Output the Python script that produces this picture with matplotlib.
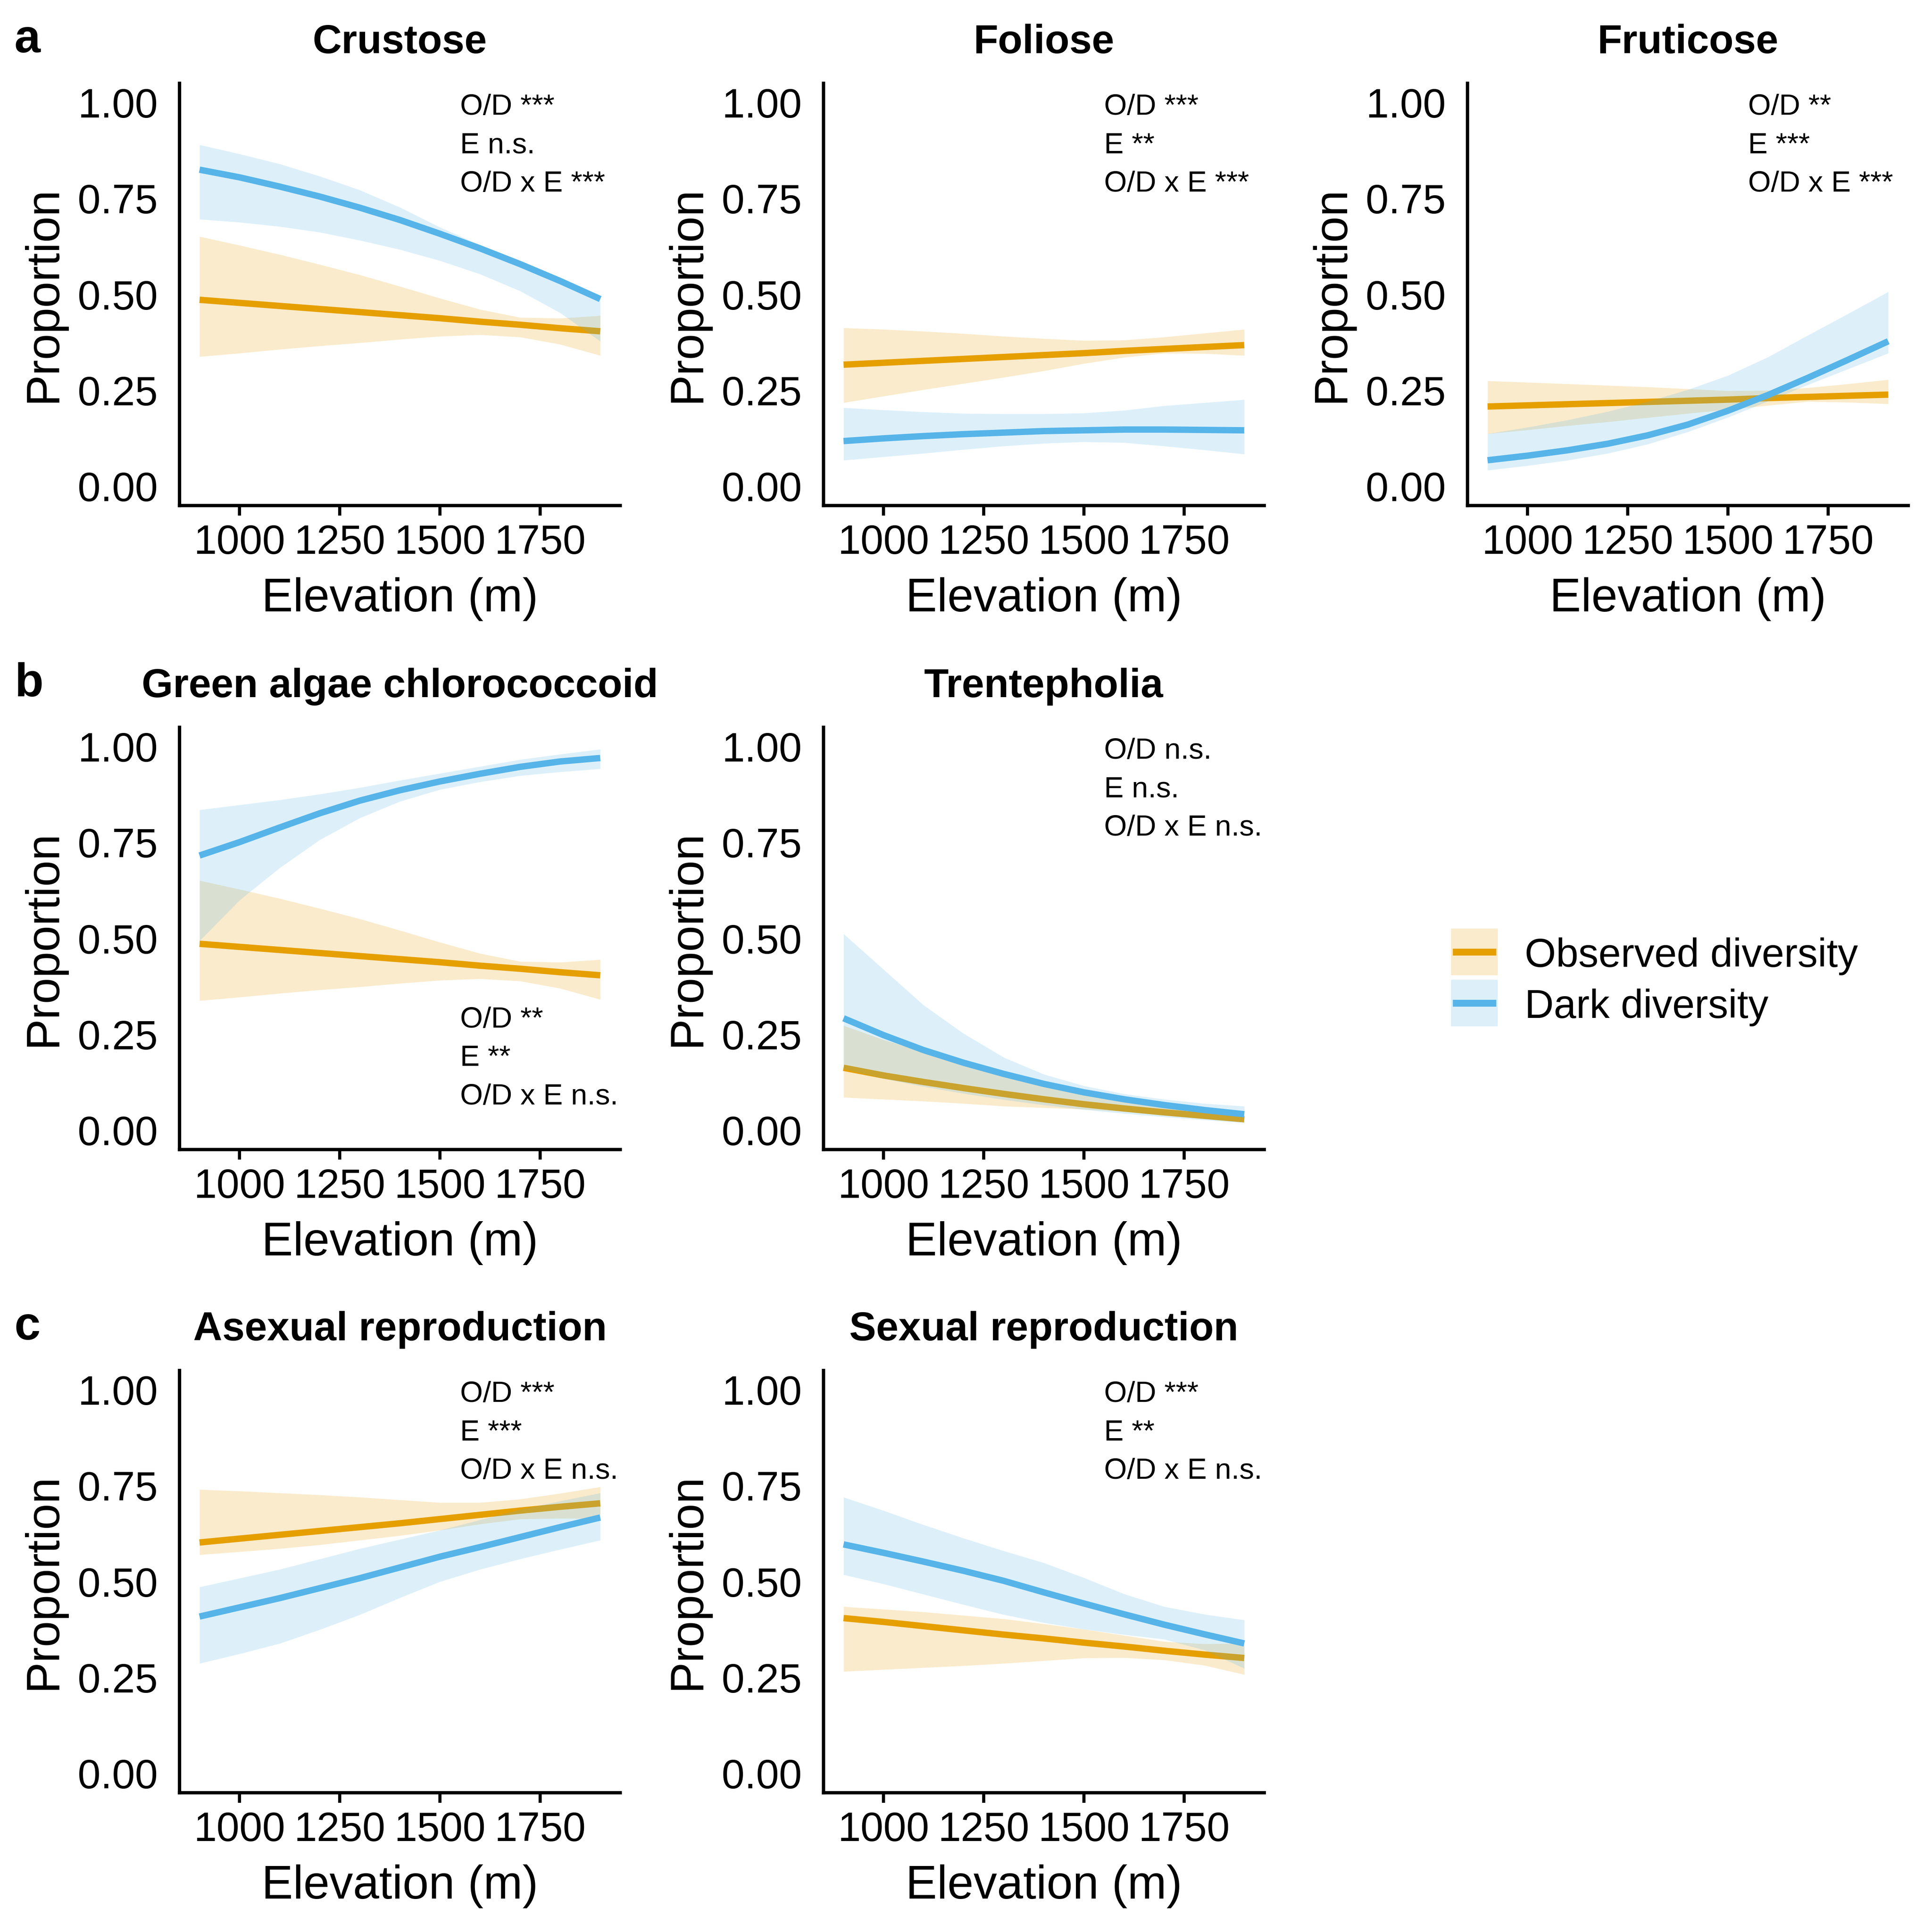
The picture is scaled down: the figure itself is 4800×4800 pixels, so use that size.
import matplotlib
matplotlib.use("Agg")
import matplotlib.pyplot as plt
from matplotlib.patches import Rectangle
from matplotlib.lines import Line2D

plt.rcParams['font.family'] = ['Liberation Sans', 'DejaVu Sans']

# ---------------- data ----------------
elevation = [900, 1000, 1100, 1200, 1300, 1400, 1500, 1600, 1700, 1800, 1900]

# Crustose
crus_obs     = [.486, .478, .470, .462, .454, .446, .438, .429, .421, .412, .404]
crus_obs_hi  = [.651, .628, .604, .578, .551, .521, .490, .461, .440, .438, .445]
crus_obs_lo  = [.338, .347, .357, .366, .374, .383, .391, .395, .389, .370, .341]
crus_dark    = [.825, .805, .781, .755, .726, .694, .658, .620, .579, .535, .488]
crus_dark_hi = [.890, .866, .840, .808, .772, .727, .675, .629, .585, .541, .495]
crus_dark_lo = [.696, .688, .677, .662, .641, .617, .588, .553, .509, .452, .378]

# Foliose
foli_obs     = [.317, .322, .327, .332, .337, .342, .347, .353, .358, .363, .368]
foli_obs_hi  = [.413, .409, .404, .398, .391, .385, .380, .381, .389, .399, .409]
foli_obs_lo  = [.218, .235, .252, .268, .284, .301, .320, .336, .347, .346, .341]
foli_dark    = [.118, .125, .131, .136, .140, .144, .146, .148, .148, .147, .146]
foli_dark_hi = [.205, .199, .194, .190, .189, .189, .191, .198, .210, .218, .226]
foli_dark_lo = [.068, .077, .086, .096, .105, .112, .116, .114, .105, .095, .084]

# Fruticose
frut_obs     = [.208, .211, .214, .217, .220, .223, .226, .230, .233, .236, .239]
frut_obs_hi  = [.275, .271, .267, .263, .259, .254, .249, .250, .257, .267, .278]
frut_obs_lo  = [.137, .147, .158, .168, .179, .190, .200, .211, .221, .219, .215]
frut_dark    = [.068, .080, .094, .111, .133, .161, .197, .238, .283, .330, .378]
frut_dark_hi = [.137, .154, .173, .195, .221, .252, .289, .337, .394, .450, .507]
frut_dark_lo = [.042, .054, .068, .086, .110, .142, .180, .222, .265, .306, .347]

# Green algae chlorococcoid
gree_obs     = [.486, .478, .470, .462, .454, .446, .438, .429, .421, .412, .404]
gree_obs_hi  = [.651, .628, .604, .578, .551, .521, .490, .461, .440, .438, .445]
gree_obs_lo  = [.338, .347, .357, .366, .374, .383, .391, .395, .389, .370, .341]
gree_dark    = [.716, .751, .789, .826, .859, .886, .909, .929, .947, .961, .970]
gree_dark_hi = [.835, .848, .861, .876, .893, .912, .930, .948, .966, .980, .993]
gree_dark_lo = [.494, .600, .684, .757, .814, .857, .888, .908, .924, .934, .942]

# Trentepholia
tren_obs     = [.163, .143, .126, .110, .095, .081, .068, .057, .047, .038, .029]
tren_obs_hi  = [.273, .236, .205, .175, .147, .122, .100, .082, .066, .052, .040]
tren_obs_lo  = [.086, .081, .076, .070, .063, .059, .055, .049, .039, .030, .021]
tren_dark    = [.292, .248, .209, .176, .147, .121, .099, .081, .066, .053, .042]
tren_dark_hi = [.512, .419, .326, .252, .190, .146, .116, .095, .081, .070, .063]
tren_dark_lo = [.160, .135, .114, .096, .080, .066, .054, .044, .035, .027, .020]

# Asexual reproduction
asex_obs     = [.602, .612, .622, .632, .642, .652, .663, .674, .685, .695, .704]
asex_obs_hi  = [.740, .736, .731, .726, .720, .713, .706, .706, .715, .730, .747]
asex_obs_lo  = [.570, .578, .586, .596, .608, .620, .634, .650, .663, .665, .664]
asex_dark    = [.409, .433, .457, .483, .509, .537, .565, .590, .616, .642, .667]
asex_dark_hi = [.486, .509, .532, .559, .586, .610, .634, .661, .688, .710, .731]
asex_dark_lo = [.287, .312, .339, .375, .414, .458, .500, .532, .559, .584, .608]

# Sexual reproduction
sexu_obs     = [.405, .395, .384, .373, .362, .352, .341, .331, .320, .310, .301]
sexu_obs_hi  = [.435, .428, .421, .412, .403, .390, .376, .360, .344, .338, .339]
sexu_obs_lo  = [.266, .271, .276, .281, .287, .294, .301, .302, .296, .282, .258]
sexu_dark    = [.597, .575, .552, .528, .502, .472, .443, .415, .388, .363, .339]
sexu_dark_hi = [.720, .685, .648, .613, .580, .549, .510, .468, .435, .415, .400]
sexu_dark_lo = [.518, .494, .467, .440, .414, .393, .376, .362, .350, .322, .274]

titles = ["Crustose", "Foliose", "Fruticose", "Green algae chlorococcoid",
          "Trentepholia", "Asexual reproduction", "Sexual reproduction"]
stats = [["O/D ***", "E n.s.", "O/D x E ***"],
         ["O/D ***", "E **", "O/D x E ***"],
         ["O/D **", "E ***", "O/D x E ***"],
         ["O/D **", "E **", "O/D x E n.s."],
         ["O/D n.s.", "E n.s.", "O/D x E n.s."],
         ["O/D ***", "E ***", "O/D x E n.s."],
         ["O/D ***", "E **", "O/D x E n.s."]]
stat_y = [[1.0, 0.9, 0.8], [1.0, 0.9, 0.8], [1.0, 0.9, 0.8], [0.3, 0.2, 0.1],
          [1.0, 0.9, 0.8], [1.0, 0.9, 0.8], [1.0, 0.9, 0.8]]
x_ticks = [1000, 1250, 1500, 1750]
y_ticks = [0.00, 0.25, 0.50, 0.75, 1.00]
series_labels = ["Observed diversity", "Dark diversity"]
panel_letters = ["a", "b", "c"]

series = [
    (crus_obs, crus_obs_lo, crus_obs_hi, crus_dark, crus_dark_lo, crus_dark_hi),
    (foli_obs, foli_obs_lo, foli_obs_hi, foli_dark, foli_dark_lo, foli_dark_hi),
    (frut_obs, frut_obs_lo, frut_obs_hi, frut_dark, frut_dark_lo, frut_dark_hi),
    (gree_obs, gree_obs_lo, gree_obs_hi, gree_dark, gree_dark_lo, gree_dark_hi),
    (tren_obs, tren_obs_lo, tren_obs_hi, tren_dark, tren_dark_lo, tren_dark_hi),
    (asex_obs, asex_obs_lo, asex_obs_hi, asex_dark, asex_dark_lo, asex_dark_hi),
    (sexu_obs, sexu_obs_lo, sexu_obs_hi, sexu_dark, sexu_dark_lo, sexu_dark_hi),
]

# ---------------- style / layout ----------------
ORANGE = "#E69F00"
BLUE = "#56B4E9"
W = H = 4800.0
col_left = [446, 2046, 3646]
ax_w = 1095
ax_h = 1049
row_top = [207, 1807, 3405]
positions = [(0, 0), (0, 1), (0, 2), (1, 0), (1, 1), (2, 0), (2, 1)]
LW = 3.8

fig = plt.figure(figsize=(16, 16), dpi=300)


def fx(px):
    return px / W


def fy(py):
    return 1 - py / H


for i, (r, c) in enumerate(positions):
    top = row_top[r]
    bot = top + ax_h
    left = col_left[c]
    ax = fig.add_axes([fx(left), fy(bot), ax_w / W, ax_h / H])
    o, olo, ohi, d, dlo, dhi = series[i]
    ax.fill_between(elevation, olo, ohi, color=ORANGE, alpha=0.2, lw=0, zorder=1)
    ax.plot(elevation, o, color=ORANGE, lw=LW, solid_capstyle="butt", zorder=2)
    ax.fill_between(elevation, dlo, dhi, color=BLUE, alpha=0.2, lw=0, zorder=3)
    ax.plot(elevation, d, color=BLUE, lw=LW, solid_capstyle="butt", zorder=4)
    ax.set_xlim(850, 1950)
    ax.set_ylim(-0.05, 1.05)
    ax.set_xticks(x_ticks)
    ax.set_xticklabels([str(t) for t in x_ticks])
    ax.set_yticks(y_ticks)
    ax.set_yticklabels([f"{t:.2f}" for t in y_ticks])
    for s in ["top", "right"]:
        ax.spines[s].set_visible(False)
    for s in ["left", "bottom"]:
        ax.spines[s].set_linewidth(2.0)
    ax.tick_params(axis="x", length=6, width=1.85, pad=5.0, labelsize=24.5, colors="black")
    ax.tick_params(axis="y", length=0, pad=13.0, labelsize=24.5, colors="black")
    for txt, yy in zip(stats[i], stat_y[i]):
        ax.annotate(txt, (1550, yy), xytext=(0, -2.9), textcoords="offset points",
                    ha="left", va="center", fontsize=17.5)
    cx = left + ax_w / 2
    fig.text(fx(cx), fy(top - 75), titles[i], ha="center", va="baseline",
             fontsize=24, fontweight="bold")
    fig.text(fx(cx), fy(bot + 263), "Elevation (m)", ha="center", va="baseline",
             fontsize=28)
    fig.text(fx(left - 338), fy(top + ax_h / 2), "Proportion", rotation=90,
             ha="center", va="center", fontsize=28)

for r, letter in enumerate(panel_letters):
    fig.text(fx(36), fy(row_top[r] - 77), letter, ha="left", va="baseline",
             fontsize=28, fontweight="bold")

# legend (keys drawn in figure pixels)
key_x0, key_w, key_h = 3605, 116, 116
key_tops = [2307, 2434]
for lab, col, kt in zip(series_labels, [ORANGE, BLUE], key_tops):
    fig.add_artist(Rectangle((fx(key_x0), fy(kt + key_h)), key_w / W, key_h / H,
                             transform=fig.transFigure, facecolor=col, alpha=0.2,
                             lw=0))
    ymid = fy(kt + key_h / 2)
    fig.add_artist(Line2D([fx(key_x0 + 4), fx(key_x0 + key_w - 4)], [ymid, ymid],
                          transform=fig.transFigure, color=col, lw=4.1,
                          solid_capstyle="butt"))
    fig.text(fx(3788), fy(kt + 95), lab, ha="left", va="baseline", fontsize=24)

fig.savefig("out.png", dpi=300, facecolor="white")
